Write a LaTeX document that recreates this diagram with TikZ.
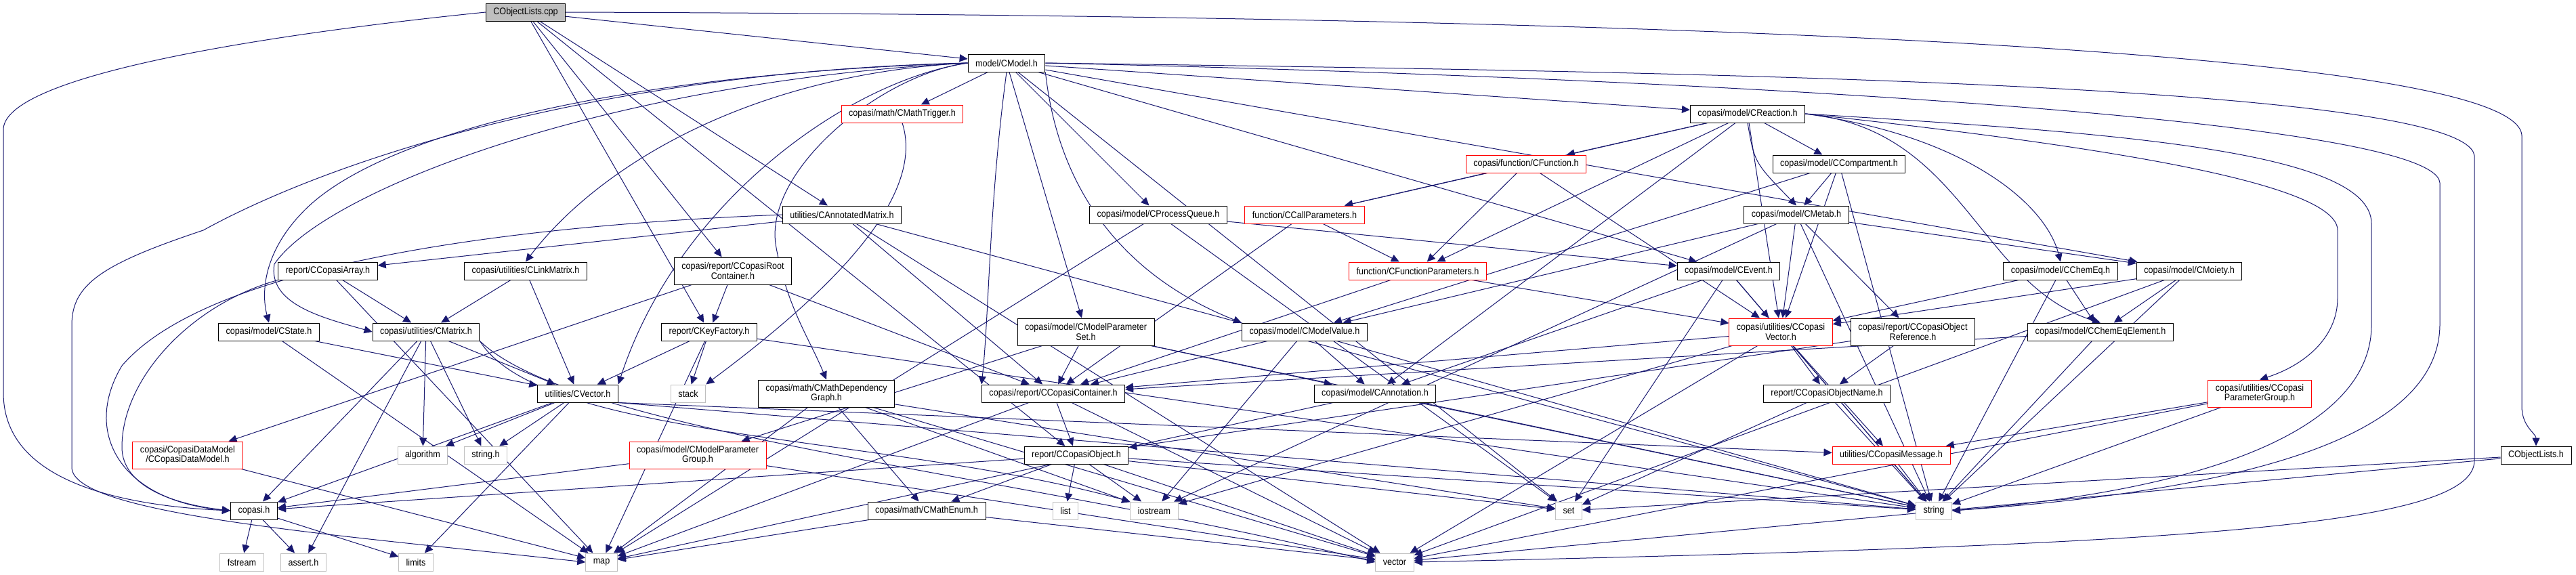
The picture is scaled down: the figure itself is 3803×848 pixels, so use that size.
\documentclass[tikz,border=0pt]{standalone}
\usepackage{fontspec}
\setmainfont{Liberation Sans}[FakeStretch=0.9]
\usetikzlibrary{arrows.meta}
\pgfdeclarelayer{bg}
\pgfdeclarelayer{edges}
\pgfsetlayers{bg,edges,main}
\definecolor{edgeblue}{HTML}{191970}
\definecolor{sysgray}{HTML}{BFBFBF}
\newcommand\doxfont{\fontsize{7pt}{7.2pt}\selectfont}
\begin{document}
\begin{tikzpicture}[x=0.5pt,y=-0.5pt,
  box/.style={draw=black,line width=0.5pt,fill=white,minimum height=13pt,inner xsep=5.5pt,inner ysep=1pt,font=\doxfont,align=center},
  redbox/.style={box,draw=red},
  sysbox/.style={box,draw=sysgray},
  srcbox/.style={box,fill=sysgray},
  twoline/.style={minimum height=20pt},
  edge/.style={draw=edgeblue,line width=0.5pt,-{Triangle[length=6pt,width=5.5pt]}}]
\begin{pgfonlayer}{bg}
\fill[white] (0,0) rectangle (3803,848);
\end{pgfonlayer}
\useasboundingbox (0,0) rectangle (3803,848);
% nodes
\node[srcbox] (cpp) at (776,18) {CObjectLists.cpp};
\node[box] (cmodel) at (1486,93) {model/CModel.h};
\node[redbox] (trig) at (1332,168) {copasi/math/CMathTrigger.h};
\node[box] (react) at (2580,168) {copasi/model/CReaction.h};
\node[redbox] (func) at (2253,242) {copasi/function/CFunction.h};
\node[box] (comp) at (2715,242) {copasi/model/CCompartment.h};
\node[box] (annmat) at (1243,317) {utilities/CAnnotatedMatrix.h};
\node[box] (pq) at (1710,317) {copasi/model/CProcessQueue.h};
\node[redbox] (callp) at (1926,317) {function/CCallParameters.h};
\node[box] (metab) at (2652,317) {copasi/model/CMetab.h};
\node[box] (carr) at (484,400) {report/CCopasiArray.h};
\node[box] (link) at (776,400) {copasi/utilities/CLinkMatrix.h};
\node[box,twoline] (root) at (1082,400) {copasi/report/CCopasiRoot\\Container.h};
\node[redbox] (fparams) at (2093,400) {function/CFunctionParameters.h};
\node[box] (event) at (2552,400) {copasi/model/CEvent.h};
\node[box] (chemeq) at (3042,400) {copasi/model/CChemEq.h};
\node[box] (moiety) at (3232,400) {copasi/model/CMoiety.h};
\node[box] (state) at (397,490) {copasi/model/CState.h};
\node[box] (matrix) at (629,490) {copasi/utilities/CMatrix.h};
\node[box] (keyf) at (1047,490) {report/CKeyFactory.h};
\node[box,twoline] (mpset) at (1603,490) {copasi/model/CModelParameter\\Set.h};
\node[box] (mvalue) at (1926,490) {copasi/model/CModelValue.h};
\node[redbox,twoline] (cvec) at (2629,490) {copasi/utilities/CCopasi\\Vector.h};
\node[box,twoline] (objref) at (2824,490) {copasi/report/CCopasiObject\\Reference.h};
\node[box] (cee) at (3101,490) {copasi/model/CChemEqElement.h};
\node[box] (vec) at (853,581) {utilities/CVector.h};
\node[sysbox] (stack) at (1016,581) {stack};
\node[box,twoline] (mdg) at (1220,581) {copasi/math/CMathDependency\\Graph.h};
\node[box] (cont) at (1555,581) {copasi/report/CCopasiContainer.h};
\node[box] (annot) at (2030,581) {copasi/model/CAnnotation.h};
\node[box] (objname) at (2697,581) {report/CCopasiObjectName.h};
\node[redbox,twoline] (pgroup) at (3336,581) {copasi/utilities/CCopasi\\ParameterGroup.h};
\node[redbox,twoline] (dm) at (277,672) {copasi/CopasiDataModel\\/CCopasiDataModel.h};
\node[sysbox] (algo) at (624,672) {algorithm};
\node[sysbox] (stringh) at (717,672) {string.h};
\node[redbox,twoline] (mpgroup) at (1030,672) {copasi/model/CModelParameter\\Group.h};
\node[box] (obj) at (1589,672) {report/CCopasiObject.h};
\node[redbox] (msg) at (2792,672) {utilities/CCopasiMessage.h};
\node[box] (olh) at (3744,672) {CObjectLists.h};
\node[box] (copasih) at (375,754) {copasi.h};
\node[box] (menum) at (1368,754) {copasi/math/CMathEnum.h};
\node[sysbox] (list) at (1573,754) {list};
\node[sysbox] (iostream) at (1704,754) {iostream};
\node[sysbox] (set) at (2316,754) {set};
\node[sysbox] (string) at (2855,754) {string};
\node[sysbox] (fstream) at (357,830) {fstream};
\node[sysbox] (assert) at (448,830) {assert.h};
\node[sysbox] (limits) at (614,830) {limits};
\node[sysbox] (map) at (888,830) {map};
\node[sysbox] (vector) at (2059,830) {vector};
% edges
\begin{pgfonlayer}{edges}
\foreach \a/\b in {cpp/cmodel, cpp/annmat, cpp/root, cpp/keyf, cpp/obj,
  olh/set, olh/vector, copasih/fstream, copasih/assert, copasih/limits,
  cmodel/trig, cmodel/react, cmodel/pq, cmodel/mpset, cmodel/event, cmodel/moiety, cmodel/set,
  react/func, react/callp, react/fparams, react/comp, react/annot, react/cvec,
  func/callp, func/fparams, func/cvec, callp/fparams, callp/cont, fparams/cont, fparams/cvec,
  comp/metab, comp/cvec, comp/mvalue, comp/string,
  metab/moiety, metab/cvec, metab/objref, metab/mvalue, metab/iostream, metab/string,
  event/annot, event/string, event/cvec, event/set,
  chemeq/cee, chemeq/cvec, chemeq/string,
  moiety/cee, moiety/cvec, moiety/string, moiety/vector,
  cee/cont, cee/string,
  cvec/objname, cvec/msg, cvec/string, cvec/cont, cvec/vector, cvec/iostream,
  objref/objname, objref/obj, objname/string, objname/set, msg/string,
  pgroup/msg, pgroup/string, pgroup/vector,
  mvalue/annot, mvalue/cont, mvalue/iostream, mvalue/string,
  annot/map, annot/string,
  mpset/cont, mpset/mpgroup, mpset/string, mpset/annot,
  mdg/map, mdg/menum, mdg/iostream, mdg/vector, mdg/set,
  mpgroup/copasih, mpgroup/vector,
  obj/menum, obj/list, obj/iostream, obj/vector, obj/copasih, obj/string, obj/set,
  root/cont, root/keyf, root/dm,
  keyf/vec, keyf/map, keyf/stack, keyf/string,
  carr/matrix, carr/map,
  annmat/carr, annmat/cont, annmat/string, annmat/vector,
  link/matrix, link/vec, state/vec, state/map,
  matrix/vec, matrix/algo, matrix/stringh, matrix/copasih, matrix/assert,
  vec/algo, vec/stringh, vec/limits, vec/copasih,
  pq/map, pq/set, pq/event, dm/map,
  cont/obj, cont/vector, cont/map, menum/map, menum/vector}
  \draw[edge] (\a) -- (\b);
% routed connectors
\draw[edge] (vec.south east) -- (msg);
\draw[edge] (vec.south east) -- (string);
\draw[edge] (matrix.south east) .. controls (800,650) and (1300,640) .. (iostream.north west);
\draw[edge] (matrix.south east) .. controls (850,640) and (1500,700) .. (vector.west);
\draw[edge] (cmodel.west) .. controls (1100,110) and (880,250) .. (link.north);
\draw[edge] (cmodel.west) .. controls (1250,120) and (1000,300) .. (vec.north east);
\draw[edge] (cmodel.west) .. controls (1300,110) and (1130,250) .. (1145,360) .. controls (1160,450) and (1195,500) .. (mdg.north);
\draw[edge] (cmodel.south east) .. controls (1560,260) and (1640,400) .. (mvalue.north west);
\draw[edge] (cmodel.south) .. controls (1460,300) and (1460,470) .. (cont.north west);
\draw[edge] (react.south) .. controls (2590,240) .. (metab.north);
\draw[edge] (react.east) .. controls (2900,200) and (3020,300) .. (chemeq.north);
\draw[edge] (react.east) .. controls (2900,190) and (2920,420) .. (cee.north);
% long loops
\draw[edge] (cpp.west) .. controls (400,50) and (10,110) .. (5,190) -- (5,580) .. controls (5,700) and (150,745) .. (copasih.west);
\draw[edge] (cpp.east) .. controls (2200,22) and (3715,60) .. (3723,200) -- (3723,600) .. controls (3723,630) and (3744,640) .. (olh.north);
\draw[edge] (cmodel.east) .. controls (2400,105) and (3640,120) .. (3653,230) -- (3653,680) .. controls (3653,780) and (3200,805) .. (vector.east);
\draw[edge] (cmodel.east) .. controls (2400,112) and (3595,170) .. (3602,270) -- (3602,480) .. controls (3600,650) and (3300,725) .. (string.east);
\draw[edge] (react.east) .. controls (3100,195) and (3501,220) .. (3501,330) -- (3501,480) .. controls (3501,620) and (3300,720) .. (string.east);
\draw[edge] (react.east) .. controls (3100,215) and (3451,270) .. (3451,340) -- (3451,440) .. controls (3451,500) and (3400,540) .. (pgroup.north);
\draw[edge] (cmodel.west) .. controls (900,110) and (560,200) .. (450,310) .. controls (390,370) and (385,430) .. (state.north);
\draw[edge] (cmodel.west) .. controls (900,120) and (480,280) .. (405,390) .. controls (395,450) and (480,470) .. (matrix.west);
\draw[edge] (cmodel.west) .. controls (900,105) and (500,230) .. (300,340) .. controls (150,390) and (106,420) .. (106,480) -- (106,690) .. controls (106,760) and (500,790) .. (map.west);
\draw[edge] (annmat.west) .. controls (700,335) and (300,400) .. (180,540) .. controls (120,640) and (180,740) .. (copasih.west);
\draw[edge] (carr.south west) .. controls (280,450) and (180,560) .. (180,660) .. controls (180,720) and (260,745) .. (copasih.west);
\draw[edge] (trig.south) .. controls (1370,300) and (1200,450) .. (stack.north east);
\end{pgfonlayer}
\end{tikzpicture}
\end{document}
